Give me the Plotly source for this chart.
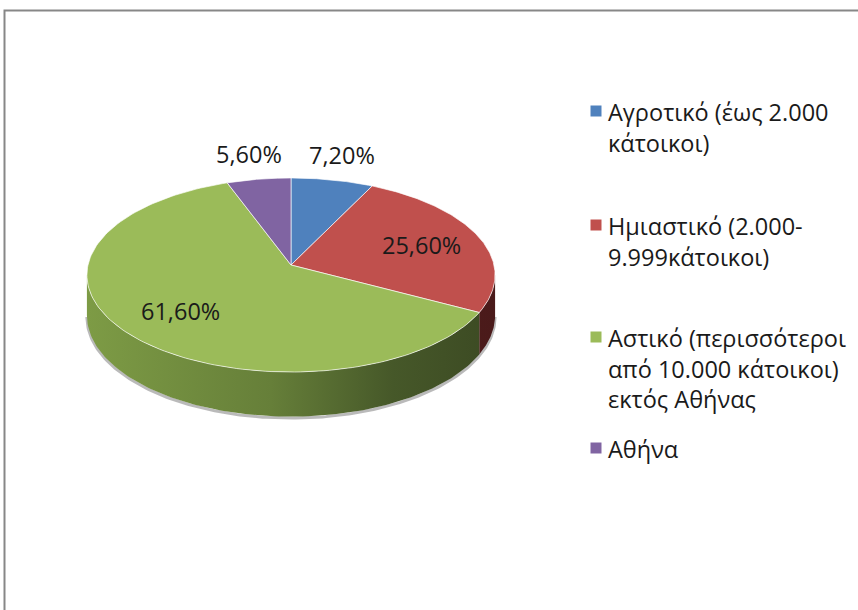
import numpy as np
import plotly.graph_objects as go

# ---- data ----
categories = [
    "Αγροτικό (έως 2.000<br>κάτοικοι)",
    "Ημιαστικό (2.000-<br>9.999κάτοικοι)",
    "Αστικό (περισσότεροι<br>από 10.000 κάτοικοι)<br>εκτός Αθήνας",
    "Αθήνα",
]
values = [7.2, 25.6, 61.6, 5.6]
value_labels = ["7,20%", "25,60%", "61,60%", "5,60%"]

# ---- style ----
top_colors = ["#4f81bd", "#c0504d", "#9bbb59", "#8064a2"]
side_scales = [
    [[0, "#2f4d72"], [1, "#1f3350"]],
    [[0, "#6a2422"], [1, "#4a1a1a"]],
    [[0, "#7d9b45"], [0.45, "#667f39"], [0.75, "#465829"], [1, "#3c4a23"]],
    [[0, "#4c3c62"], [1, "#35294a"]],
]
FONT = "Open Sans"
W, H = 858, 610
CX, CY = 291, 265          # projected pie centre (page pixels)
SX, SY, K = 203, 96, 0.103  # perspective projection of the disc
DEPTH0 = 40


def proj(t, r=1.0):
    u = r * np.sin(t)
    v = -r * np.cos(t)
    w = 1 - K * v
    return CX + SX * u / w, CY + SY * v / w


def depth(t):
    v = -np.cos(t)
    return DEPTH0 / (1 - K * v)


total = sum(values)
fracs = [v / total for v in values]
edges = np.concatenate([[0], np.cumsum(fracs)]) * 2 * np.pi
vis_a = np.arccos(-K)
vis_b = 2 * np.pi - vis_a

fig = go.Figure()

# shadow line under the pie
ts = np.linspace(vis_a, vis_b, 200)
sx, sy = proj(ts)
fig.add_trace(go.Scatter(x=sx, y=sy + depth(ts) + 1.5, mode="lines",
                         line=dict(color="rgba(140,140,140,0.6)", width=3),
                         hoverinfo="skip"))

# side walls (front half only)
for i in range(len(values)):
    a = max(edges[i], vis_a)
    b = min(edges[i + 1], vis_b)
    if b <= a:
        continue
    ts = np.linspace(a, b, 120)
    x_top, y_top = proj(ts)
    y_bot = y_top + depth(ts)
    xs = np.concatenate([x_top, x_top[::-1]])
    ys = np.concatenate([y_top, y_bot[::-1]])
    fig.add_trace(go.Scatter(
        x=xs, y=ys, mode="lines", fill="toself",
        line=dict(color="rgba(255,255,255,0)", width=0),
        fillgradient=dict(type="horizontal", colorscale=side_scales[i],
                          start=CX - SX, stop=CX + SX),
        hoverinfo="skip"))

# top faces
for i in range(len(values)):
    ts = np.linspace(edges[i], edges[i + 1], 150)
    x_r, y_r = proj(ts)
    xs = np.concatenate([[CX], x_r, [CX]])
    ys = np.concatenate([[CY], y_r, [CY]])
    fig.add_trace(go.Scatter(
        x=xs, y=ys, mode="lines", fill="toself", fillcolor=top_colors[i],
        line=dict(color="rgba(255,255,255,0.65)", width=1),
        hoverinfo="text", text=value_labels[i]))

# data labels
for i in range(len(values)):
    mid = (edges[i] + edges[i + 1]) / 2
    if fracs[i] > 0.15:
        lx, ly = proj(mid, 0.69)
    else:
        lx, ly = proj(mid, 1.0)
        ly -= 25
        lx += 10 * np.sign(np.sin(mid))
    fig.add_annotation(x=lx, y=ly, text=value_labels[i], showarrow=False,
                       font=dict(family=FONT, size=23.5, color="#1a1a1a"),
                       xanchor="center", yanchor="middle")

# legend (keys + text)
legend_y = [111, 225, 337, 448]
for i, name in enumerate(categories):
    fig.add_trace(go.Scatter(x=[596], y=[legend_y[i]], mode="markers",
                             marker=dict(symbol="square", size=11, color=top_colors[i]),
                             hoverinfo="skip"))
    fig.add_annotation(x=606, y=legend_y[i] - 17, text=name, showarrow=False,
                       align="left", xanchor="left", yanchor="top",
                       font=dict(family=FONT, size=23.5, color="#1a1a1a"))

# chart frame
fig.add_shape(type="rect", x0=4.5, y0=10.5, x1=W + 20, y1=H + 20,
              line=dict(color="#878787", width=2), layer="below")

fig.update_layout(
    width=W, height=H, margin=dict(l=0, r=0, t=0, b=0),
    paper_bgcolor="white", plot_bgcolor="white", showlegend=False,
    xaxis=dict(range=[0, W], visible=False, fixedrange=True),
    yaxis=dict(range=[H, 0], visible=False, fixedrange=True),
)
fig.write_html(
    "out.html",
    config={"displayModeBar": False},
    post_script="document.body.style.margin='0';document.body.style.overflow='hidden';",
)
